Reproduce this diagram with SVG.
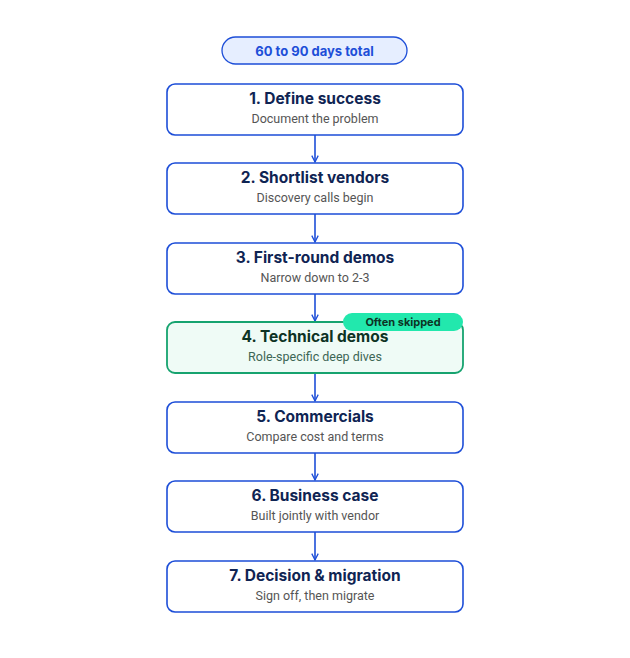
<svg xmlns="http://www.w3.org/2000/svg" width="630" height="658" viewBox="0 0 630 658">
<style>
.box{fill:#fff;stroke:#1d4ed8;stroke-width:1.6}
.t{font-family:Inter,"Liberation Sans",sans-serif;font-weight:700;font-size:15.5px;fill:#0f2453;text-anchor:middle}
.s{font-family:Roboto,"Liberation Sans",sans-serif;font-size:12.5px;fill:#555;text-anchor:middle}
.c{stroke:#1d4ed8;stroke-width:1.6;fill:none}
</style>
<defs><marker id="a" viewBox="0 0 10 10" refX="9" refY="5" markerWidth="8" markerHeight="8" orient="auto" markerUnits="userSpaceOnUse"><path d="M1,1 L9,5 L1,9" fill="none" stroke="#1d4ed8" stroke-width="1.6"/></marker></defs>
<rect width="630" height="658" fill="#fff"/>
<g id="total"><rect x="222" y="37" width="185" height="27" rx="13.5" fill="#e6eeff" stroke="#1d4ed8" stroke-width="1.3"/><text x="314.5" y="55.5" class="t" style="font-size:13px;fill:#1d4ed8">60 to 90 days total</text></g>
<g id="connectors">
<line class="c" x1="315" y1="135" x2="315" y2="162" marker-end="url(#a)"/>
<line class="c" x1="315" y1="214" x2="315" y2="242" marker-end="url(#a)"/>
<line class="c" x1="315" y1="294" x2="315" y2="321" marker-end="url(#a)"/>
<line class="c" x1="315" y1="373" x2="315" y2="401" marker-end="url(#a)"/>
<line class="c" x1="315" y1="453" x2="315" y2="480" marker-end="url(#a)"/>
<line class="c" x1="315" y1="532" x2="315" y2="560" marker-end="url(#a)"/>
</g>
<g id="n1"><rect class="box" x="167" y="84" width="296" height="51" rx="8"/><text class="t" x="315" y="104">1. Define success</text><text class="s" x="315" y="123">Document the problem</text></g>
<g id="n2"><rect class="box" x="167" y="163" width="296" height="51" rx="8"/><text class="t" x="315" y="183">2. Shortlist vendors</text><text class="s" x="315" y="202">Discovery calls begin</text></g>
<g id="n3"><rect class="box" x="167" y="243" width="296" height="51" rx="8"/><text class="t" x="315" y="263">3. First-round demos</text><text class="s" x="315" y="282">Narrow down to 2-3</text></g>
<g id="n4"><rect x="167" y="322" width="296" height="51" rx="8" fill="#effbf6" stroke="#16a36f" stroke-width="1.8"/><text class="t" x="315" y="342" style="fill:#0d3324">4. Technical demos</text><text class="s" x="315" y="361" style="fill:#3d6655">Role-specific deep dives</text>
<rect x="343" y="313" width="120" height="18" rx="9" fill="#22e8ad"/><text x="403" y="326" class="t" style="font-size:11px;fill:#0d3324">Often skipped</text></g>
<g id="n5"><rect class="box" x="167" y="402" width="296" height="51" rx="8"/><text class="t" x="315" y="422">5. Commercials</text><text class="s" x="315" y="441">Compare cost and terms</text></g>
<g id="n6"><rect class="box" x="167" y="481" width="296" height="51" rx="8"/><text class="t" x="315" y="501">6. Business case</text><text class="s" x="315" y="520">Built jointly with vendor</text></g>
<g id="n7"><rect class="box" x="167" y="561" width="296" height="51" rx="8"/><text class="t" x="315" y="581">7. Decision &amp; migration</text><text class="s" x="315" y="600">Sign off, then migrate</text></g>
</svg>
